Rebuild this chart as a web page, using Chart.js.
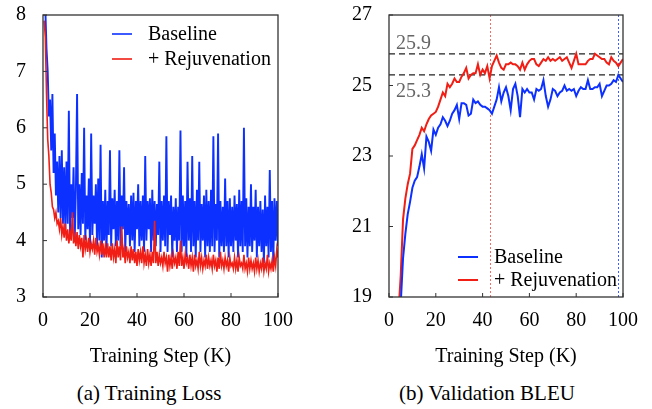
<!DOCTYPE html>
<html><head><meta charset="utf-8">
<script src="https://cdn.jsdelivr.net/npm/chart.js@4.4.0/dist/chart.umd.min.js"></script>
<style>
html,body{margin:0;padding:0;background:#fff;width:652px;height:409px;overflow:hidden;}
canvas{position:absolute;top:0;}
.cap{position:absolute;font-family:'Liberation Serif','Times New Roman',Times,serif;font-size:21px;color:#000;white-space:nowrap;transform:translate(-50%,-50%);}
</style></head><body>
<canvas id="c1" width="310" height="375" style="left:0px"></canvas>
<canvas id="c2" width="332" height="375" style="left:320px"></canvas>
<div class="cap" style="left:149px;top:393px">(a) Training Loss</div>
<div class="cap" style="left:487px;top:393px">(b) Validation BLEU</div>
<script>
// ---------- Data ----------
const seriesLabels = ['Baseline', '+ Rejuvenation'];
const lossXTicks = [0, 20, 40, 60, 80, 100];
const lossYTicks = [3, 4, 5, 6, 7, 8];
const bleuYTicks = [19, 21, 23, 25, 27];

// training loss, one value every 0.5K steps (0.5 .. 100)
const baselineLoss = [
 8.6,8.1,7.4,7.0,6.2,6.5,5.6,6.6,5.2,5.9,4.8,5.4,4.5,5.5,4.4,5.6,4.3,5.3,4.2,5.4,
 4.3,6.3,4.1,5.0,4.4,5.3,4.0,4.9,6.6,4.2,5.0,4.1,5.2,4.3,6.0,4.0,4.8,4.2,5.1,3.9,
 5.9,4.1,4.8,4.3,5.0,3.9,5.1,4.0,5.7,3.7,4.7,4.0,4.9,3.8,4.7,4.1,5.6,3.9,4.75,4.2,
 4.9,3.9,4.7,4.0,5.6,3.9,4.8,4.2,5.3,3.8,4.7,4.1,4.65,3.9,4.8,4.0,4.85,3.8,4.7,4.2,
 5.0,3.9,4.7,4.0,4.8,3.8,5.5,4.0,4.7,4.2,4.75,3.8,4.9,4.0,4.7,3.9,4.65,4.1,5.4,3.8,
 4.7,4.0,4.8,3.9,5.85,3.8,4.7,4.1,4.8,3.7,4.6,4.0,4.75,3.8,4.6,4.0,5.95,3.8,4.8,3.9,
 4.7,3.7,5.4,4.0,4.75,3.8,5.5,3.9,4.7,3.7,4.9,4.0,5.4,3.8,4.65,4.0,4.8,3.7,4.9,3.9,
 4.7,3.8,4.9,3.9,5.85,3.8,4.65,4.0,5.9,3.7,4.7,3.9,4.6,3.8,5.1,3.9,4.7,3.7,4.75,3.9,
 4.6,3.8,4.8,4.0,4.65,3.7,4.9,3.9,4.7,3.8,6.0,3.9,4.75,3.7,4.6,3.9,5.0,3.8,4.6,4.0,
 4.9,3.7,4.6,3.9,4.7,3.8,4.55,3.6,4.8,3.9,4.6,3.7,5.25,3.8,4.7,3.6,4.75,4.0,4.7,3.9
];
const rejuvLoss = [
 7.9,7.6,6.6,5.8,5.5,5.0,4.85,4.6,4.55,4.4,4.5,4.3,4.35,4.2,4.4,4.1,4.25,4.05,4.3,4.0,
 4.2,3.95,4.15,4.0,4.5,3.95,4.1,3.9,4.15,3.85,4.1,3.9,4.05,3.7,4.1,3.85,4.0,3.8,4.05,3.8,
 3.95,3.85,4.0,3.75,4.05,3.8,3.9,3.75,4.0,3.75,3.95,3.7,3.9,3.7,3.95,3.7,3.9,3.65,3.95,3.7,
 3.85,3.6,4.0,3.7,3.9,3.65,4.25,3.7,3.85,3.6,3.9,3.7,3.8,3.6,3.9,3.65,3.85,3.6,3.8,3.55,
 3.85,3.65,3.8,3.6,3.9,3.6,3.75,3.55,3.85,3.6,3.75,3.55,3.8,3.6,4.35,3.6,3.8,3.55,3.75,3.6,
 3.7,3.55,3.8,3.6,3.7,3.45,3.75,3.55,3.7,3.5,3.75,3.6,3.7,3.5,3.8,3.55,4.0,3.55,3.7,3.5,
 3.75,3.6,3.7,3.5,3.75,3.55,3.7,3.45,3.75,3.55,3.65,3.5,3.8,3.55,3.7,3.5,3.65,3.55,3.75,3.5,
 3.7,3.55,3.65,3.5,3.75,3.55,3.65,3.45,3.7,3.5,3.8,3.55,3.65,3.5,3.7,3.55,3.65,3.45,3.7,3.55,
 3.6,3.5,3.7,3.5,3.65,3.45,3.7,3.55,3.6,3.5,3.75,3.5,3.6,3.45,3.7,3.5,3.65,3.5,3.6,3.45,
 3.7,3.5,3.65,3.45,3.6,3.5,3.7,3.45,3.6,3.5,3.75,3.45,3.6,3.5,3.65,3.45,3.7,3.55,3.85,3.7
];
const lossSteps = baselineLoss.map((_, i) => (i + 1) * 0.5);

// validation BLEU, one value every 1K steps
const baselineBleuStart = 5;   // 5K .. 100K
const baselineBleu = [
 18.8,20.1,20.8,21.35,21.7,22.1,22.3,22.4,22.7,23.05,
 22.65,23.55,23.4,23.15,23.75,23.6,23.8,23.9,24.1,24.0,
 23.85,24.0,24.2,24.3,24.45,24.05,24.5,24.5,24.45,24.15,
 24.2,24.6,24.5,24.55,24.45,24.4,24.4,24.35,24.3,24.2,
 24.4,24.6,24.95,24.55,24.8,24.95,24.7,24.3,24.9,25.05,
 24.7,24.1,24.9,24.8,24.9,24.8,24.8,24.6,24.9,24.85,
 24.9,25.15,24.7,24.4,24.6,24.9,24.85,24.7,24.8,24.85,
 25.0,24.85,24.9,24.85,24.9,24.7,24.85,24.95,24.9,24.9,
 25.15,24.9,24.9,24.95,24.95,25.05,24.7,24.85,25.0,25.0,
 25.05,25.15,25.1,25.3,25.2,25.1
];
const rejuvBleuStart = 4;      // 4K .. 100K
const rejuvBleu = [
 18.5,19.6,21.2,21.8,22.2,22.5,23.2,23.3,23.45,23.6,
 23.8,23.7,23.9,24.05,24.15,24.2,24.25,24.4,24.6,24.8,
 24.7,25.05,24.95,25.05,25.2,25.1,25.1,25.25,25.35,25.5,
 25.2,25.3,25.35,25.35,25.6,25.3,25.45,25.35,25.55,25.2,
 25.55,25.7,25.85,25.65,25.5,25.45,25.6,25.6,25.65,25.6,
 25.6,25.55,25.45,25.65,25.45,25.6,25.7,25.75,25.75,25.6,
 25.55,25.65,25.75,25.7,25.8,25.7,25.75,25.7,25.75,25.8,
 25.7,25.75,25.8,25.65,25.5,25.7,25.9,25.6,25.6,25.6,
 25.6,25.7,25.75,25.75,25.9,25.85,25.8,25.75,25.75,25.65,
 25.6,25.8,25.7,25.65,25.55,25.65,25.75
];
const bestBleu = [25.9, 25.3];        // dashed reference levels (rejuvenation, baseline)
const bestBleuSteps = [43, 98];       // dotted vertical markers (rejuvenation, baseline)

// ---------- Style ----------
const BLUE = 'rgb(12,48,255)';
const RED = 'rgb(240,30,20)';
const FONT = "'Liberation Serif', 'Times New Roman', Times, serif";
Chart.defaults.font.family = FONT;
Chart.defaults.color = '#000';

const toPts = (xs, ys) => ys.map((y, i) => ({x: xs[i], y}));
const bleuX = (start, arr) => arr.map((_, i) => start + i);

function axisOpts(min, max, ticks, yWidth) {
  return {
    x: {
      type: 'linear', min: 0, max: 100,
      afterBuildTicks: s => { s.ticks = lossXTicks.map(v => ({value: v})); },
      ticks: {font: {size: 20}, padding: 12, color: '#000', maxRotation: 0},
      grid: {display: false, drawTicks: false}, border: {display: false},
      title: {display: true, text: 'Training Step (K)', font: {size: 20}, padding: {bottom: 6}, color: '#000'},
      afterFit: s => { s.height = 78; s.paddingLeft = 0; s.paddingRight = 0; }
    },
    y: {
      type: 'linear', min, max,
      afterBuildTicks: s => { s.ticks = ticks.map(v => ({value: v})); },
      ticks: {font: {size: 20}, padding: 17, color: '#000'},
      grid: {display: false, drawTicks: false}, border: {display: false},
      afterFit: s => { s.width = yWidth; s.paddingTop = 0; s.paddingBottom = 0; }
    }
  };
}

const frameTicks = {
  id: 'frameTicks',
  afterDatasetsDraw(chart) {
    const {ctx, chartArea: a, scales} = chart;
    ctx.save();
    ctx.strokeStyle = '#333'; ctx.lineWidth = 1.3;
    ctx.strokeRect(a.left, a.top, a.right - a.left, a.bottom - a.top);
    ctx.lineWidth = 1;
    scales.x.ticks.forEach(t => {
      const x = scales.x.getPixelForValue(t.value);
      ctx.beginPath(); ctx.moveTo(x, a.bottom); ctx.lineTo(x, a.bottom - 4); ctx.stroke();
    });
    scales.y.ticks.forEach(t => {
      const y = scales.y.getPixelForValue(t.value);
      ctx.beginPath(); ctx.moveTo(a.left, y); ctx.lineTo(a.left + 4, y); ctx.stroke();
    });
    ctx.restore();
  }
};

function legendPlugin(rowOffsets, lw) {
  return {
    id: 'customLegend',
    afterDraw(chart) {
      const {ctx, chartArea: a} = chart;
      ctx.save();
      ctx.font = '20px ' + FONT;
      ctx.textBaseline = 'middle';
      chart.data.datasets.forEach((ds, i) => {
        const y = a.top + rowOffsets[i];
        ctx.strokeStyle = ds.borderColor; ctx.lineWidth = lw;
        ctx.beginPath(); ctx.moveTo(a.left + 69, y); ctx.lineTo(a.left + 89, y); ctx.stroke();
        ctx.fillStyle = '#000';
        ctx.fillText(ds.label, a.left + 105, y + 1);
      });
      ctx.restore();
    }
  };
}

const refLines = {
  id: 'refLines',
  beforeDatasetsDraw(chart) {
    const {ctx, chartArea: a, scales} = chart;
    ctx.save();
    ctx.strokeStyle = '#222'; ctx.lineWidth = 1.2; ctx.setLineDash([6, 4]);
    bestBleu.forEach(v => {
      const y = scales.y.getPixelForValue(v);
      ctx.beginPath(); ctx.moveTo(a.left, y); ctx.lineTo(a.right, y); ctx.stroke();
    });
    const vCols = ['rgb(245,110,100)', 'rgb(60,95,255)'];
    ctx.setLineDash([2, 2]); ctx.lineWidth = 1;
    bestBleuSteps.forEach((s, i) => {
      const x = Math.round(scales.x.getPixelForValue(s)) + 0.5;
      ctx.strokeStyle = vCols[i];
      ctx.beginPath(); ctx.moveTo(x, a.top); ctx.lineTo(x, a.bottom); ctx.stroke();
    });
    ctx.setLineDash([]);
    ctx.fillStyle = '#666';
    ctx.font = '20px ' + FONT;
    ctx.textBaseline = 'alphabetic';
    ctx.fillText(String(bestBleu[0]), a.left + 7, scales.y.getPixelForValue(bestBleu[0]) - 5);
    ctx.fillText(String(bestBleu[1]), a.left + 7, scales.y.getPixelForValue(bestBleu[1]) + 22);
    ctx.restore();
  }
};

const common = {
  responsive: false, animation: false, devicePixelRatio: 1,
  plugins: {legend: {display: false}, tooltip: {enabled: false}},
  elements: {point: {radius: 0}, line: {tension: 0}}
};

new Chart(document.getElementById('c1'), {
  type: 'line',
  data: {datasets: [
    {label: seriesLabels[0], data: toPts(lossSteps, baselineLoss), borderColor: BLUE, borderWidth: 1.9, order: 1},
    {label: seriesLabels[1], data: toPts(lossSteps, rejuvLoss), borderColor: RED, borderWidth: 1.6, order: 0}
  ]},
  options: Object.assign({}, common, {
    parsing: false,
    layout: {padding: {top: 15, right: 32, left: 0, bottom: 0}},
    scales: axisOpts(3, 8, lossYTicks, 43)
  }),
  plugins: [frameTicks, legendPlugin([19, 44], 1.6)]
});

new Chart(document.getElementById('c2'), {
  type: 'line',
  data: {datasets: [
    {label: seriesLabels[0], data: toPts(bleuX(baselineBleuStart, baselineBleu), baselineBleu), borderColor: BLUE, borderWidth: 2},
    {label: seriesLabels[1], data: toPts(bleuX(rejuvBleuStart, rejuvBleu), rejuvBleu), borderColor: RED, borderWidth: 2}
  ]},
  options: Object.assign({}, common, {
    parsing: false,
    layout: {padding: {top: 15, right: 29, left: 0, bottom: 0}},
    scales: axisOpts(19, 27, bleuYTicks, 69)
  }),
  plugins: [refLines, frameTicks, legendPlugin([242, 265], 2)]
});
</script>
</body></html>
